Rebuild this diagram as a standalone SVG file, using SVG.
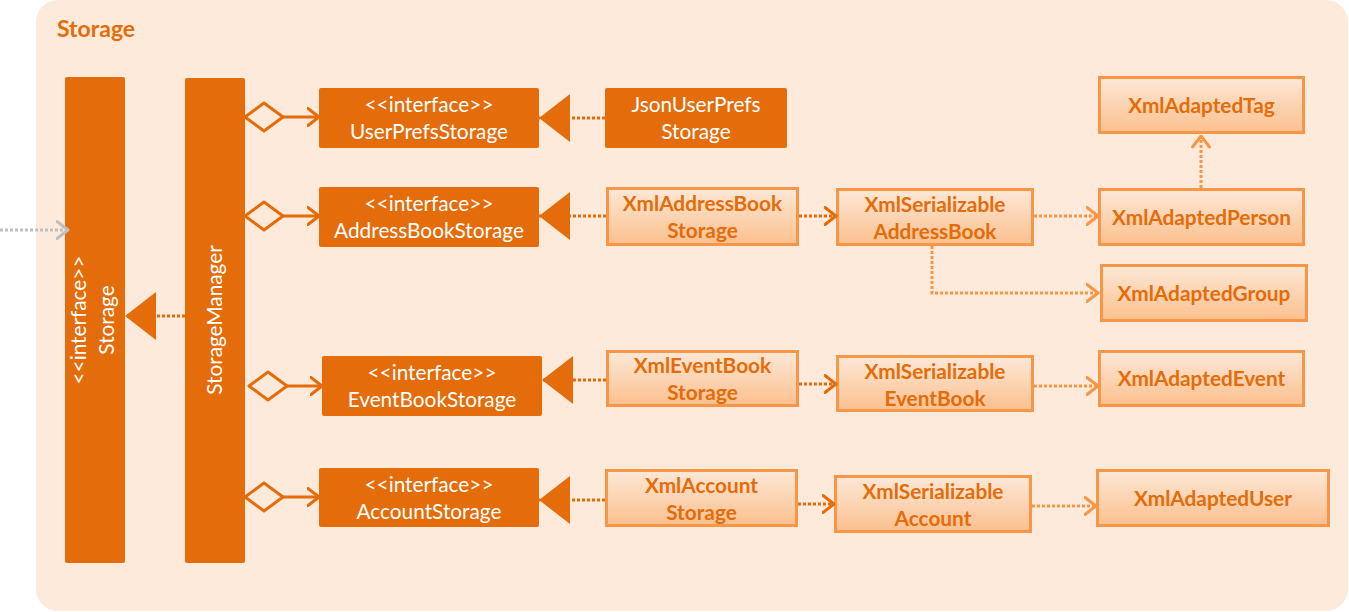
<svg xmlns="http://www.w3.org/2000/svg" width="1349" height="612" viewBox="0 0 1349 612">
<defs>
<linearGradient id="xmlGrad" x1="0" y1="0" x2="0" y2="1">
<stop offset="0" stop-color="#FDE8D7"/>
<stop offset="1" stop-color="#FBC08E"/>
</linearGradient>
<marker id="openDark" markerUnits="userSpaceOnUse" viewBox="0 0 14 20" markerWidth="14" markerHeight="20" refX="12.5" refY="10" orient="auto">
<path d="M1.5,1.5 L12.5,10 L1.5,18.5" fill="none" stroke="#E46C0A" stroke-width="3" stroke-linecap="round" stroke-linejoin="round"/>
</marker>
<marker id="openLight" markerUnits="userSpaceOnUse" viewBox="0 0 14 20" markerWidth="14" markerHeight="20" refX="12.5" refY="10" orient="auto">
<path d="M1.5,1.5 L12.5,10 L1.5,18.5" fill="none" stroke="#F79646" stroke-width="3" stroke-linecap="round" stroke-linejoin="round"/>
</marker>
<marker id="openGray" markerUnits="userSpaceOnUse" viewBox="0 0 14 20" markerWidth="14" markerHeight="20" refX="12.5" refY="10" orient="auto">
<path d="M1.5,1.5 L12.5,10 L1.5,18.5" fill="none" stroke="#BFBFBF" stroke-width="3" stroke-linecap="round" stroke-linejoin="round"/>
</marker>
<marker id="realize" markerUnits="userSpaceOnUse" viewBox="0 0 32 48" markerWidth="32" markerHeight="48" refX="31" refY="24" orient="auto">
<path d="M0,0 L31,24 L0,48 Z" fill="#E46C0A"/>
</marker>
<marker id="diamond" markerUnits="userSpaceOnUse" viewBox="0 0 42 32" markerWidth="42" markerHeight="32" refX="40" refY="16" orient="auto">
<path d="M2,16 L21,2 L40,16 L21,30 Z" fill="#FDEADA" stroke="#E46C0A" stroke-width="3" stroke-linejoin="round"/>
</marker>
</defs>
<style>
.bg{fill:#FDEADA}
.solid{fill:#E46C0A}
.xml{fill:url(#xmlGrad);stroke:#F79646;stroke-width:3}
.wt{font-family:Lato,"Liberation Sans",sans-serif;font-size:20.8px;fill:#FFFFFF;text-anchor:middle}
.bt{font-family:Lato,"Liberation Sans",sans-serif;font-size:20.8px;font-weight:bold;fill:#E46C0A;text-anchor:middle}
.title{font-family:Lato,"Liberation Sans",sans-serif;font-size:23px;font-weight:bold;fill:#E46C0A}
.dotD{fill:none;stroke:#E46C0A;stroke-width:3;stroke-dasharray:3 2}
.dotL{fill:none;stroke:#F79646;stroke-width:3;stroke-dasharray:3 2}
.dotG{fill:none;stroke:#BFBFBF;stroke-width:3;stroke-dasharray:3 2}
.agg{fill:none;stroke:#E46C0A;stroke-width:3}
</style>
<rect class="bg" x="36" y="0" width="1312" height="611" rx="22"/>
<text class="title" x="57" y="37">Storage</text>

<g id="Storage">
<rect class="solid" x="65" y="77" width="60" height="486" rx="2"/>
<text class="wt" transform="translate(95,320) rotate(-90)"><tspan x="0" y="-9">&lt;&lt;interface&gt;&gt;</tspan><tspan x="0" y="19">Storage</tspan></text>
</g>
<g id="StorageManager">
<rect class="solid" x="185" y="78" width="60" height="485" rx="2"/>
<text class="wt" transform="translate(215,320) rotate(-90)" x="0" y="7">StorageManager</text>
</g>

<g id="UserPrefsStorage">
<rect class="solid" x="319" y="88" width="220" height="60" rx="2"/>
<text class="wt"><tspan x="429" y="112">&lt;&lt;interface&gt;&gt;</tspan><tspan x="429" y="139">UserPrefsStorage</tspan></text>
</g>
<g id="AddressBookStorage">
<rect class="solid" x="319" y="187" width="220" height="60" rx="2"/>
<text class="wt"><tspan x="429" y="211">&lt;&lt;interface&gt;&gt;</tspan><tspan x="429" y="238">AddressBookStorage</tspan></text>
</g>
<g id="EventBookStorage">
<rect class="solid" x="322" y="356" width="220" height="60" rx="2"/>
<text class="wt"><tspan x="432" y="380">&lt;&lt;interface&gt;&gt;</tspan><tspan x="432" y="407">EventBookStorage</tspan></text>
</g>
<g id="AccountStorage">
<rect class="solid" x="319" y="468" width="220" height="59" rx="2"/>
<text class="wt"><tspan x="429" y="492">&lt;&lt;interface&gt;&gt;</tspan><tspan x="429" y="519">AccountStorage</tspan></text>
</g>
<g id="JsonUserPrefsStorage">
<rect class="solid" x="605" y="88" width="182" height="60" rx="2"/>
<text class="wt"><tspan x="696" y="112">JsonUserPrefs</tspan><tspan x="696" y="139">Storage</tspan></text>
</g>

<g id="XmlAddressBookStorage">
<rect class="xml" x="607.5" y="188.5" width="190" height="56"/>
<text class="bt"><tspan x="702.5" y="211">XmlAddressBook</tspan><tspan x="702.5" y="238">Storage</tspan></text>
</g>
<g id="XmlEventBookStorage">
<rect class="xml" x="607.5" y="351.5" width="190" height="54"/>
<text class="bt"><tspan x="702.5" y="373">XmlEventBook</tspan><tspan x="702.5" y="400">Storage</tspan></text>
</g>
<g id="XmlAccountStorage">
<rect class="xml" x="606.5" y="470.5" width="190" height="55"/>
<text class="bt"><tspan x="701.5" y="493">XmlAccount</tspan><tspan x="701.5" y="520">Storage</tspan></text>
</g>
<g id="XmlSerializableAddressBook">
<rect class="xml" x="837.5" y="189.5" width="195" height="55"/>
<text class="bt"><tspan x="935" y="212">XmlSerializable</tspan><tspan x="935" y="239">AddressBook</tspan></text>
</g>
<g id="XmlSerializableEventBook">
<rect class="xml" x="837.5" y="356.5" width="195" height="54"/>
<text class="bt"><tspan x="935" y="379">XmlSerializable</tspan><tspan x="935" y="406">EventBook</tspan></text>
</g>
<g id="XmlSerializableAccount">
<rect class="xml" x="835.5" y="476.5" width="195" height="55"/>
<text class="bt"><tspan x="933" y="499">XmlSerializable</tspan><tspan x="933" y="526">Account</tspan></text>
</g>
<g id="XmlAdaptedTag">
<rect class="xml" x="1099.5" y="77.5" width="204" height="55"/>
<text class="bt" x="1201.5" y="112.5">XmlAdaptedTag</text>
</g>
<g id="XmlAdaptedPerson">
<rect class="xml" x="1099.5" y="189.5" width="204" height="55"/>
<text class="bt" x="1201.5" y="224.5">XmlAdaptedPerson</text>
</g>
<g id="XmlAdaptedGroup">
<rect class="xml" x="1101.5" y="265.5" width="205" height="55"/>
<text class="bt" x="1204" y="300.5">XmlAdaptedGroup</text>
</g>
<g id="XmlAdaptedEvent">
<rect class="xml" x="1099.5" y="351.5" width="204" height="54"/>
<text class="bt" x="1201.5" y="385.5">XmlAdaptedEvent</text>
</g>
<g id="XmlAdaptedUser">
<rect class="xml" x="1097.5" y="470.5" width="231" height="55"/>
<text class="bt" x="1213" y="505.5">XmlAdaptedUser</text>
</g>

<g id="connectors">
<path class="dotG" d="M0,230 L68,230" marker-end="url(#openGray)"/>
<path class="dotD" d="M185,316 L125,316" marker-end="url(#realize)"/>
<path class="agg" d="M283,117 L319,117" marker-start="url(#diamond)" marker-end="url(#openDark)"/>
<path class="agg" d="M283,216 L319,216" marker-start="url(#diamond)" marker-end="url(#openDark)"/>
<path class="agg" d="M287,386 L322,386" marker-start="url(#diamond)" marker-end="url(#openDark)"/>
<path class="agg" d="M283,497 L319,497" marker-start="url(#diamond)" marker-end="url(#openDark)"/>
<path class="dotD" d="M605,118 L539,118" marker-end="url(#realize)"/>
<path class="dotD" d="M606,216 L539,216" marker-end="url(#realize)"/>
<path class="dotD" d="M606,380 L542,380" marker-end="url(#realize)"/>
<path class="dotD" d="M605,500 L539,500" marker-end="url(#realize)"/>
<path class="dotD" d="M799,216 L836,216" marker-end="url(#openDark)"/>
<path class="dotD" d="M799,384 L836,384" marker-end="url(#openDark)"/>
<path class="dotD" d="M798,504 L834,504" marker-end="url(#openDark)"/>
<path class="dotL" d="M1034,216 L1098,216" marker-end="url(#openLight)"/>
<path class="dotL" d="M932,246 L932,293 L1098,293" marker-end="url(#openLight)"/>
<path class="dotL" d="M1034,386 L1098,386" marker-end="url(#openLight)"/>
<path class="dotL" d="M1032,506 L1096,506" marker-end="url(#openLight)"/>
<path class="dotL" d="M1201,188 L1201,136" marker-end="url(#openLight)"/>
</g>
</svg>
